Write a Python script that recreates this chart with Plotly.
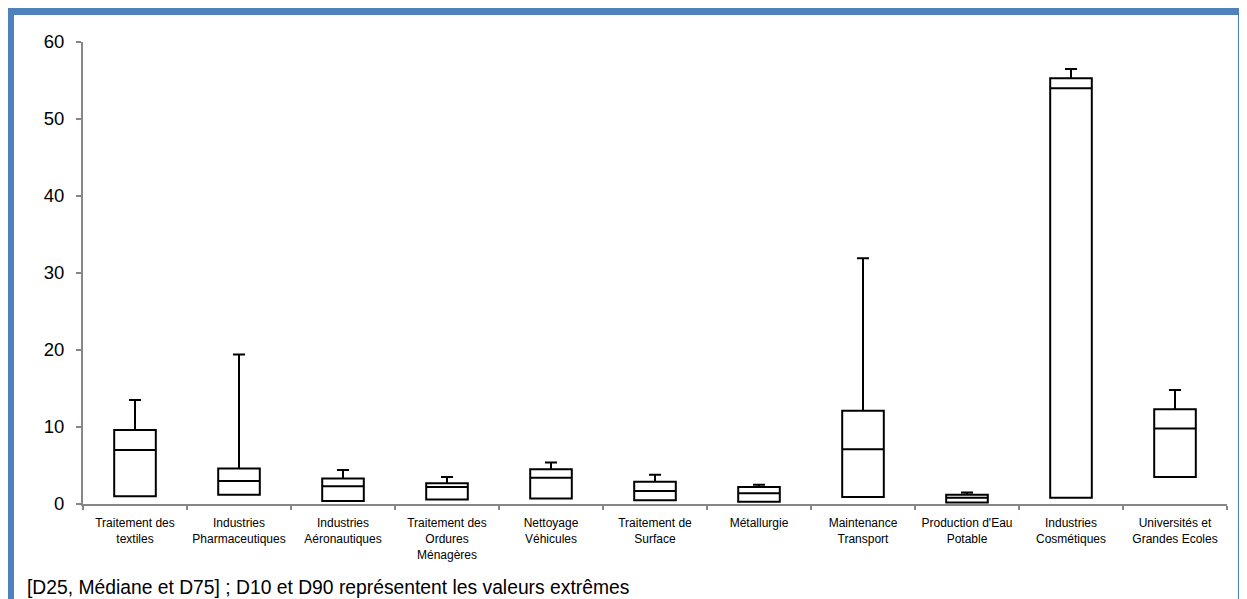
import plotly.graph_objects as go

categories = [
    "Traitement des<br>textiles",
    "Industries<br>Pharmaceutiques",
    "Industries<br>Aéronautiques",
    "Traitement des<br>Ordures<br>Ménagères",
    "Nettoyage<br>Véhicules",
    "Traitement de<br>Surface",
    "Métallurgie",
    "Maintenance<br>Transport",
    "Production d'Eau<br>Potable",
    "Industries<br>Cosmétiques",
    "Universités et<br>Grandes Ecoles",
]
d25 = [1.0, 1.2, 0.4, 0.6, 0.7, 0.5, 0.3, 0.9, 0.2, 0.8, 3.5]
median = [7.0, 3.0, 2.3, 2.2, 3.4, 1.7, 1.4, 7.1, 0.8, 54.0, 9.8]
d75 = [9.6, 4.6, 3.3, 2.7, 4.5, 2.9, 2.2, 12.1, 1.2, 55.3, 12.3]
d90 = [13.5, 19.4, 4.4, 3.5, 5.4, 3.8, 2.5, 31.9, 1.5, 56.5, 14.8]
y_ticks = [0, 10, 20, 30, 40, 50, 60]
caption = "[D25, Médiane et D75] ; D10 et D90 représentent les valeurs extrêmes"

# page body has an 8px margin; work in page pixels and offset
OFF = 8
W, H = 1247 - OFF, 599 - OFF
L, R, T, B = 83 - OFF, 1247 - 1227, 42 - OFF, 599 - 504
PW, PH = W - L - R, H - T - B


def px_x(p):
    return (p - OFF - L) / PW


def px_y(p):
    return (H - B - (p - OFF)) / PH


fig = go.Figure()
fig.add_trace(go.Box(
    x=categories,
    q1=d25,
    median=median,
    q3=d75,
    lowerfence=d25,
    upperfence=d90,
    fillcolor="white",
    line=dict(color="black", width=2),
    whiskerwidth=0.29,
    boxpoints=False,
    showlegend=False,
))

blue = "#4F81BD"
shapes = [
    dict(type="rect", xref="paper", yref="paper",
         x0=px_x(8), x1=px_x(1247), y0=px_y(15), y1=px_y(8),
         fillcolor=blue, line=dict(width=0), layer="above"),
    dict(type="rect", xref="paper", yref="paper",
         x0=px_x(8), x1=px_x(14), y0=px_y(599), y1=px_y(8),
         fillcolor=blue, line=dict(width=0), layer="above"),
    dict(type="line", xref="paper", yref="paper",
         x0=px_x(1238.5), x1=px_x(1238.5), y0=px_y(599), y1=px_y(9),
         line=dict(color=blue, width=1.2), layer="above"),
]

fig.update_layout(
    width=W, height=H,
    margin=dict(l=L, r=R, t=T, b=B),
    paper_bgcolor="white", plot_bgcolor="white",
    boxgap=0.6, boxgroupgap=0,
    font=dict(family="Liberation Sans, Arial, sans-serif", color="black"),
    shapes=shapes,
    annotations=[dict(
        text=caption, xref="paper", yref="paper",
        x=px_x(25), y=px_y(587), xanchor="left", yanchor="middle",
        showarrow=False, font=dict(size=19.3, color="black"),
    )],
)
fig.update_xaxes(
    type="category",
    showline=True, linecolor="#868686", linewidth=2,
    ticks="outside", tickson="boundaries", ticklen=4, tickcolor="#868686", tickwidth=1.5,
    showgrid=False, zeroline=False,
    tickfont=dict(size=12, color="black"),
    ticklabelstandoff=7,
)
fig.update_yaxes(
    range=[0, 60], tickvals=y_ticks,
    showline=True, linecolor="#868686", linewidth=2,
    ticks="outside", ticklen=5, tickcolor="#868686", tickwidth=1.5,
    showgrid=False, zeroline=False,
    tickfont=dict(size=18.5, color="black"),
    ticklabelstandoff=8,
)

fig.write_html("out.html")
